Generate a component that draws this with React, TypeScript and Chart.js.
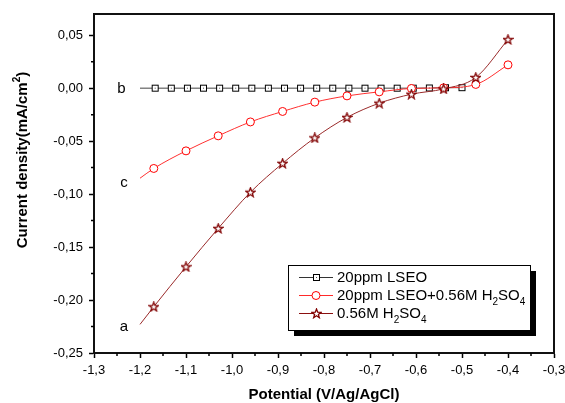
import React, { useEffect, useRef } from 'react';
import { Chart, registerables } from 'chart.js';

Chart.register(...registerables);

// ---- data ----
const xTickValues = [-1.3, -1.2, -1.1, -1.0, -0.9, -0.8, -0.7, -0.6, -0.5, -0.4, -0.3];
const yTickValues = [-0.25, -0.2, -0.15, -0.1, -0.05, 0, 0.05];
const xMinorTicks = [-1.25, -1.15, -1.05, -0.95, -0.85, -0.75, -0.65, -0.55, -0.45, -0.35];
const yMinorTicks = [-0.225, -0.175, -0.125, -0.075, -0.025, 0.025];

// b: 20ppm LSEO
const potentialB = [-1.2, -1.167, -1.132, -1.097, -1.062, -1.027, -0.992, -0.957, -0.921, -0.886, -0.851,
  -0.816, -0.781, -0.746, -0.711, -0.676, -0.641, -0.606, -0.571, -0.536, -0.5];
const currentB = [0, 0, 0, 0, 0, 0, 0, 0, 0, 0, 0, 0, 0, 0, 0, 0, 0, 0, 0.0002, 0.0004, 0.0005];

// c: 20ppm LSEO + 0.56M H2SO4 ; a: 0.56M H2SO4
const potentialAC = [-1.2, -1.17, -1.1, -1.03, -0.96, -0.89, -0.82, -0.75, -0.68, -0.61, -0.54, -0.47, -0.4];
const currentC = [-0.085, -0.0758, -0.0592, -0.045, -0.0319, -0.022, -0.0132, -0.0073, -0.0035, -0.0003, 0.0003, 0.0035, 0.022];
const currentA = [-0.223, -0.2063, -0.1686, -0.1324, -0.0983, -0.071, -0.0469, -0.0276, -0.0142, -0.0057, -0.0007, 0.0101, 0.0459];

const curveLabels = ['b', 'c', 'a'];
const labelX = [-1.2402, -1.2348, -1.2348];
const labelY = [-0.0047, -0.0934, -0.2297];

const FONT = "'Liberation Sans', Arial, sans-serif";

function makeSquare(): HTMLCanvasElement {
  const c = document.createElement('canvas');
  c.width = 9; c.height = 9;
  const g = c.getContext('2d')!;
  g.fillStyle = '#fff';
  g.fillRect(1, 1, 7, 7);
  g.strokeStyle = '#000';
  g.lineWidth = 1;
  g.strokeRect(1.5, 1.5, 6, 6);
  g.fillStyle = '#555';
  g.fillRect(4, 4, 1, 1);
  return c;
}

function makeStar(): HTMLCanvasElement {
  const c = document.createElement('canvas');
  c.width = 11; c.height = 11;
  const g = c.getContext('2d')!;
  const cx = 5.5, cy = 5.8, R = 4.8, r = 2.0;
  g.beginPath();
  for (let i = 0; i < 10; i++) {
    const ang = -Math.PI / 2 + (i * Math.PI) / 5;
    const rad = i % 2 === 0 ? R : r;
    const px = cx + rad * Math.cos(ang);
    const py = cy + rad * Math.sin(ang);
    if (i === 0) g.moveTo(px, py); else g.lineTo(px, py);
  }
  g.closePath();
  g.fillStyle = '#fff';
  g.fill();
  g.strokeStyle = '#800000';
  g.lineWidth = 1.3;
  g.stroke();
  return c;
}

type Part = { t: string; mode?: 'sub' | 'sup' };

function drawRich(ctx: CanvasRenderingContext2D, parts: Part[], x: number, y: number, size: number, bold: boolean, center: boolean) {
  const w = bold ? 'bold ' : '';
  const small = Math.round(size * 0.65);
  let total = 0;
  for (const p of parts) {
    ctx.font = `${w}${p.mode ? small : size}px ${FONT}`;
    total += ctx.measureText(p.t).width;
  }
  let cx = center ? x - total / 2 : x;
  ctx.textAlign = 'left';
  ctx.textBaseline = 'alphabetic';
  for (const p of parts) {
    ctx.font = `${w}${p.mode ? small : size}px ${FONT}`;
    let dy = 0;
    if (p.mode === 'sub') dy = size * 0.3;
    if (p.mode === 'sup') dy = -size * 0.45;
    ctx.fillText(p.t, cx, y + dy);
    cx += ctx.measureText(p.t).width;
  }
}

export default function App() {
  const ref = useRef<HTMLCanvasElement | null>(null);

  useEffect(() => {
    document.body.style.margin = '0';
    const canvas = ref.current;
    if (!canvas) return;
    const squareImg = makeSquare();
    const starImg = makeStar();

    const overlay = {
      id: 'overlay',
      afterDraw(chart: any) {
        const ctx: CanvasRenderingContext2D = chart.ctx;
        const xs = chart.scales.x;
        const ys = chart.scales.y;
        const area = chart.chartArea;
        ctx.save();
        // frame (top & right)
        ctx.strokeStyle = '#111';
        ctx.lineWidth = 2;
        ctx.beginPath();
        ctx.moveTo(area.left, area.top);
        ctx.lineTo(area.right, area.top);
        ctx.lineTo(area.right, area.bottom);
        ctx.stroke();
        // minor ticks
        ctx.lineWidth = 1.5;
        ctx.strokeStyle = '#000';
        ctx.beginPath();
        for (const v of xMinorTicks) {
          const px = xs.getPixelForValue(v);
          ctx.moveTo(px, area.bottom);
          ctx.lineTo(px, area.bottom + 3);
        }
        for (const v of yMinorTicks) {
          const py = ys.getPixelForValue(v);
          ctx.moveTo(area.left, py);
          ctx.lineTo(area.left - 3, py);
        }
        ctx.stroke();

        // curve labels
        ctx.fillStyle = '#000';
        ctx.font = `15px ${FONT}`;
        ctx.textAlign = 'center';
        ctx.textBaseline = 'alphabetic';
        curveLabels.forEach((t, i) => {
          ctx.fillText(t, xs.getPixelForValue(labelX[i]), ys.getPixelForValue(labelY[i]));
        });

        // legend
        const lx = 288, ly = 265, lw = 242, lh = 65;
        ctx.fillStyle = '#000';
        ctx.fillRect(lx + 6, ly + 6, lw, lh);
        ctx.fillStyle = '#fff';
        ctx.fillRect(lx, ly, lw, lh);
        ctx.strokeStyle = '#000';
        ctx.lineWidth = 1;
        ctx.strokeRect(lx + 0.5, ly + 0.5, lw, lh);
        const rows = [
          { color: '#333', mk: 'sq', parts: [{ t: '20ppm LSEO' }] as Part[] },
          { color: '#ff2a2a', mk: 'ci', parts: [{ t: '20ppm LSEO+0.56M H' }, { t: '2', mode: 'sub' }, { t: 'SO' }, { t: '4', mode: 'sub' }] as Part[] },
          { color: '#8b1010', mk: 'st', parts: [{ t: '0.56M H' }, { t: '2', mode: 'sub' }, { t: 'SO' }, { t: '4', mode: 'sub' }] as Part[] },
        ];
        rows.forEach((r, i) => {
          const cy = ly + 12 + i * 18;
          ctx.strokeStyle = r.color;
          ctx.lineWidth = 1;
          ctx.beginPath();
          ctx.moveTo(lx + 11, cy + 0.5);
          ctx.lineTo(lx + 45, cy + 0.5);
          ctx.stroke();
          const mx = lx + 28;
          if (r.mk === 'sq') ctx.drawImage(squareImg, Math.round(mx - 4.5), Math.round(cy - 4));
          if (r.mk === 'st') ctx.drawImage(starImg, Math.round(mx - 5.5), Math.round(cy - 5.5));
          if (r.mk === 'ci') {
            ctx.fillStyle = '#fff';
            ctx.strokeStyle = '#ff0000';
            ctx.beginPath();
            ctx.arc(mx, cy + 0.5, 4, 0, Math.PI * 2);
            ctx.fill();
            ctx.stroke();
          }
          ctx.fillStyle = '#000';
          drawRich(ctx, r.parts, lx + 49, cy + 5, 15, false, false);
        });

        // axis titles
        ctx.fillStyle = '#000';
        drawRich(ctx, [{ t: 'Potential (V/Ag/AgCl)' }], (area.left + area.right) / 2, 399, 15, true, true);
        ctx.translate(27, 160);
        ctx.rotate(-Math.PI / 2);
        drawRich(ctx, [{ t: 'Current density(mA/cm' }, { t: '2', mode: 'sup' }, { t: ')' }], 0, 0, 15, true, true);
        ctx.restore();
      },
    };

    const fmt = (dec: number) => (v: any) => Number(v).toFixed(dec).replace('.', ',').replace(/^-(0,0+)$/, '$1');

    const chart = new Chart(canvas, {
      type: 'line',
      data: {
        datasets: [
          {
            label: '20ppm LSEO',
            data: potentialB.map((x, i) => ({ x, y: currentB[i] })),
            borderColor: '#444',
            borderWidth: 1,
            pointStyle: squareImg as any,
            pointRadius: (c: any) => (c.dataIndex === 0 ? 0 : 4),
            order: 3,
            tension: 0,
          },
          {
            label: '20ppm LSEO+0.56M H2SO4',
            data: potentialAC.map((x, i) => ({ x, y: currentC[i] })),
            borderColor: '#ff3030',
            borderWidth: 1,
            pointStyle: 'circle',
            pointRadius: (c: any) => (c.dataIndex === 0 ? 0 : 4),
            pointBorderColor: '#ff0000',
            pointBackgroundColor: '#fff',
            pointBorderWidth: 1,
            cubicInterpolationMode: 'monotone',
            order: 2,
          },
          {
            label: '0.56M H2SO4',
            data: potentialAC.map((x, i) => ({ x, y: currentA[i] })),
            borderColor: '#9a2a2a',
            borderWidth: 1,
            pointStyle: starImg as any,
            pointRadius: (c: any) => (c.dataIndex === 0 ? 0 : 5),
            cubicInterpolationMode: 'monotone',
            order: 1,
          },
        ],
      },
      options: {
        animation: false,
        responsive: false,
        events: [],
        layout: { padding: { top: 14, right: 11, bottom: 0, left: 0 } },
        plugins: { legend: { display: false }, tooltip: { enabled: false } },
        scales: {
          x: {
            type: 'linear',
            position: 'bottom',
            min: -1.3,
            max: -0.3,
            afterBuildTicks: (s: any) => { s.ticks = xTickValues.map((v) => ({ value: v })); },
            afterFit: (s: any) => { s.height = 50; s.paddingLeft = 0; s.paddingRight = 0; },
            grid: { drawOnChartArea: false, drawTicks: true, tickLength: 5, tickColor: '#000', tickWidth: 1.5 },
            border: { display: true, color: '#111', width: 2 },
            ticks: { color: '#000', font: { family: FONT, size: 13 }, padding: 5, maxRotation: 0, autoSkip: false, callback: fmt(1) },
          },
          y: {
            type: 'linear',
            position: 'left',
            min: -0.25,
            max: 0.07,
            afterBuildTicks: (s: any) => { s.ticks = yTickValues.map((v) => ({ value: v })); },
            afterFit: (s: any) => { s.width = 94; s.paddingTop = 0; s.paddingBottom = 0; },
            grid: { drawOnChartArea: false, drawTicks: true, tickLength: 5, tickColor: '#000', tickWidth: 1.5 },
            border: { display: true, color: '#111', width: 2 },
            ticks: { color: '#000', font: { family: FONT, size: 13 }, padding: 6, autoSkip: false, callback: fmt(2) },
          },
        },
      },
      plugins: [overlay],
    } as any);

    return () => chart.destroy();
  }, []);

  return (
    <div style={{ width: 565, height: 403 }}>
      <canvas ref={ref} width={565} height={403} style={{ display: 'block' }} />
    </div>
  );
}
